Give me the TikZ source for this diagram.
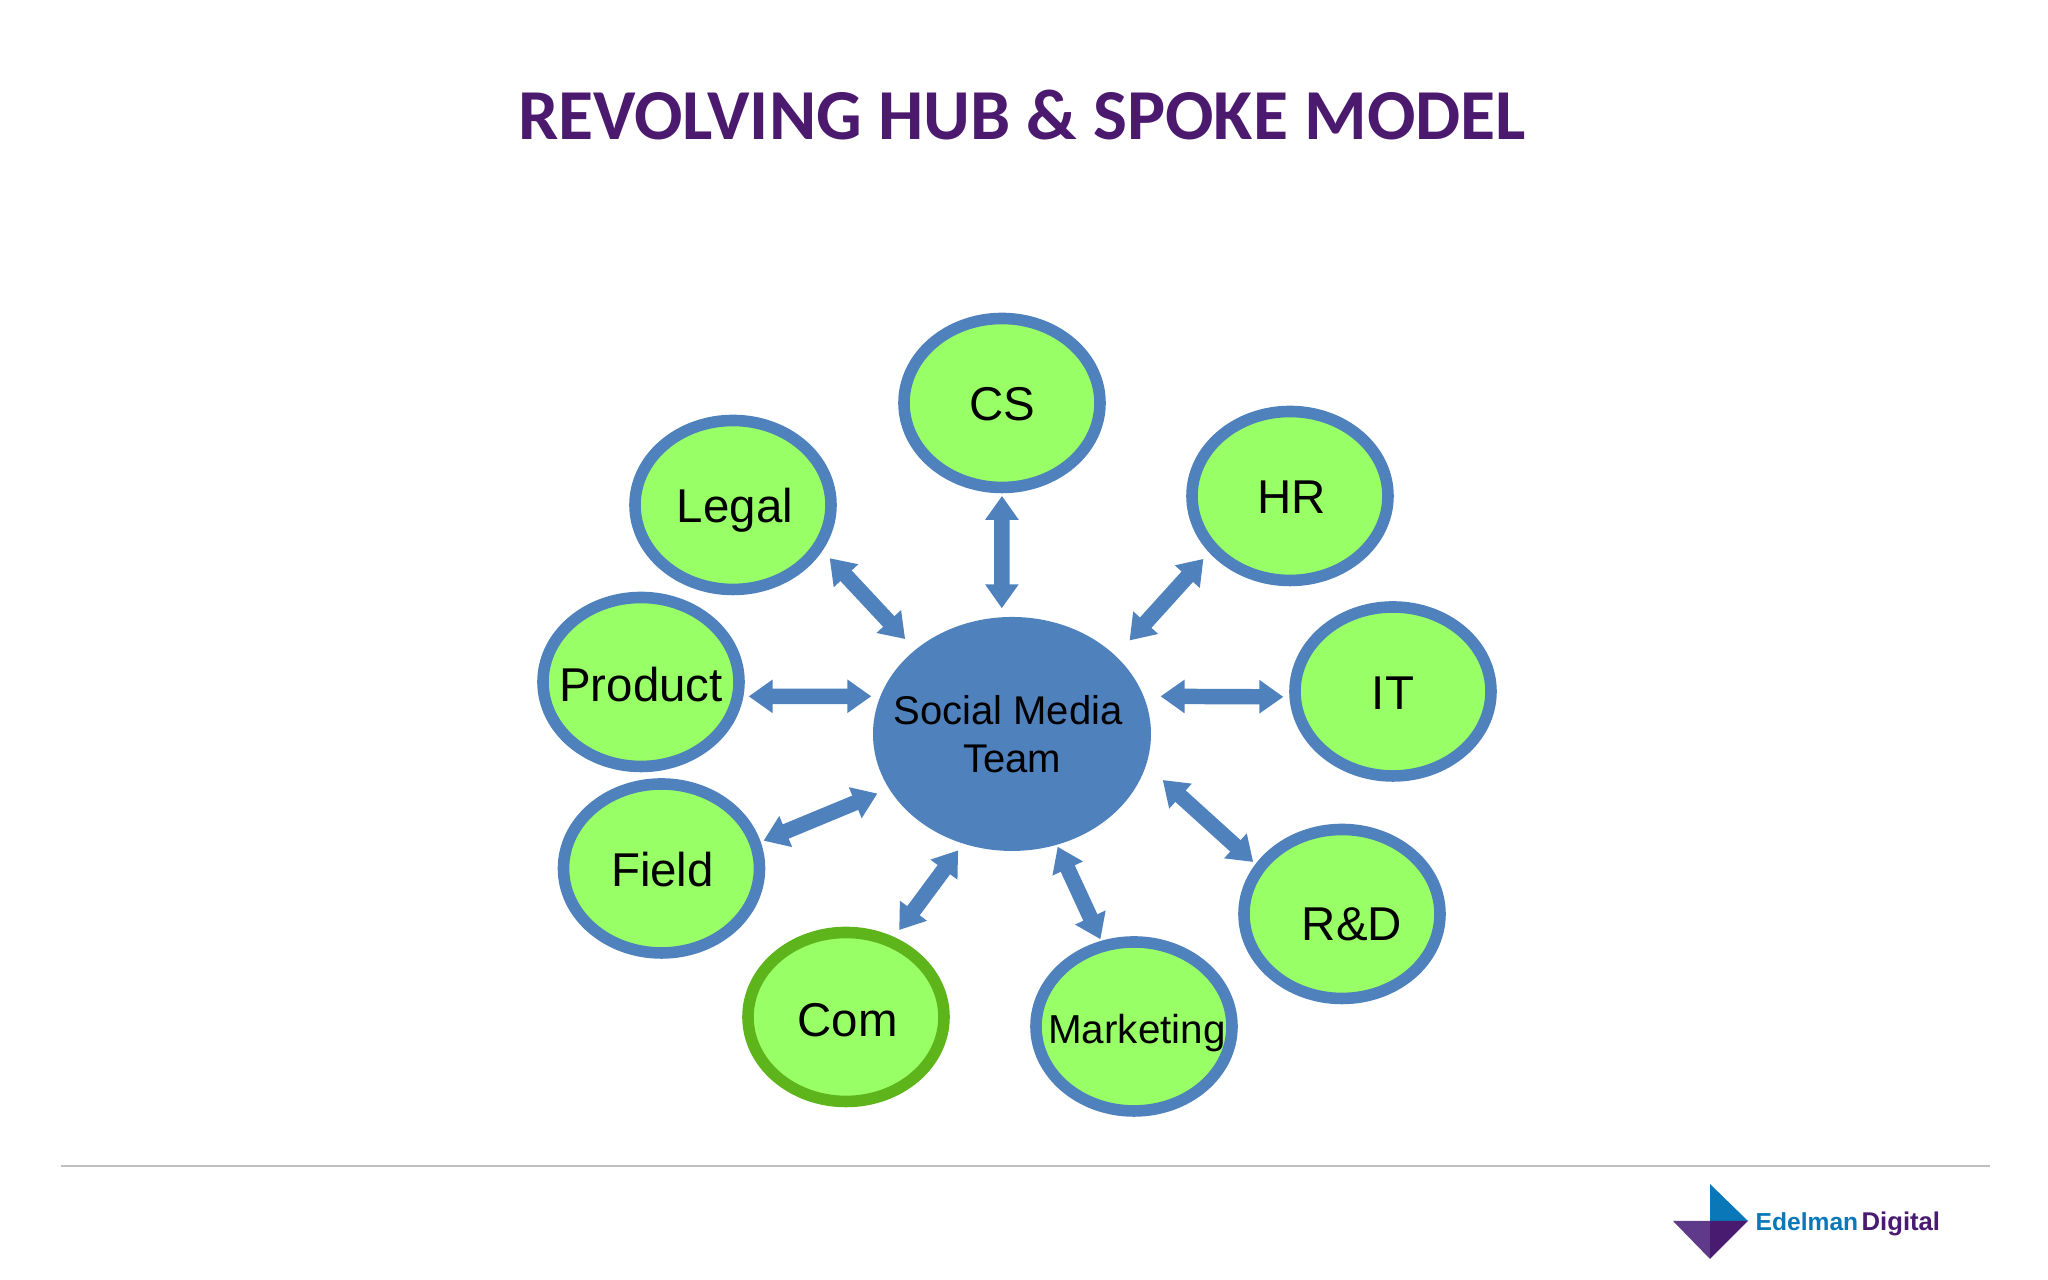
\documentclass[tikz,border=0pt]{standalone}
\usepackage{fontspec}
\setmainfont{Liberation Sans}
\newfontfamily\titlefont{Carlito}
\definecolor{hubblue}{RGB}{79,129,189}
\definecolor{spokegreen}{RGB}{153,255,102}
\definecolor{comgreen}{RGB}{94,181,27}
\definecolor{titlepurple}{RGB}{75,25,110}
\definecolor{logoblue}{RGB}{10,120,184}
\definecolor{logopurple}{RGB}{95,58,138}
\definecolor{logodark}{RGB}{72,26,112}
\usetikzlibrary{shapes.geometric,arrows.meta}
\newcommand{\nudge}[2]{\raisebox{-#1}[\height][\depth]{#2}}
\tikzset{
    hub/.style={ellipse, fill=hubblue, minimum width=2.78cm, minimum height=2.34cm, inner sep=-1cm, outer sep=0pt, align=center, font=\fontsize{11.4}{13.7}\selectfont},
    spoke/.style={ellipse, draw=hubblue, fill=spokegreen, line width=3.3pt, minimum width=1.96cm, minimum height=1.69cm, inner sep=-0.6cm, font=\fontsize{13.5}{16}\selectfont},
    link/.style={{Triangle[width=0.32cm,length=0.24cm]}-{Triangle[width=0.32cm,length=0.24cm]}, draw=hubblue, line width=4.4pt}
}
\begin{document}
\begin{tikzpicture}
    \useasboundingbox (0,0) rectangle (20.48,12.8);
    \node[font=\titlefont\bfseries\fontsize{20.4}{24}\selectfont, text=titlepurple] (title) at (10.22,11.65) {REVOLVING HUB \& SPOKE MODEL};
    % hub and spokes
    \node[hub] (team) at (10.12,5.46) {\hspace{-0.08cm}Social Media\\Team};
    \node[spoke] (cs) at (10.02,8.77) {\nudge{0.013cm}{CS}};
    \node[spoke] (legal) at (7.33,7.75) {\nudge{0.05cm}{\hspace{0.04cm}Legal}};
    \node[spoke] (hr) at (12.90,7.84) {\nudge{0.013cm}{\hspace{0.03cm}HR}};
    \node[spoke] (product) at (6.41,5.98) {\nudge{0.03cm}{Product}};
    \node[spoke] (it) at (13.93,5.885) {\nudge{0.013cm}{IT}};
    \node[spoke] (field) at (6.615,4.115) {\nudge{0.015cm}{\hspace{0.02cm}Field}};
    \node[spoke] (rd) at (13.42,3.66) {\nudge{0.105cm}{\hspace{0.2cm}R\&D}};
    \node[spoke, draw=comgreen] (com) at (8.46,2.63) {\nudge{0.03cm}{\hspace{0.03cm}Com}};
    \node[spoke, font=\fontsize{11.5}{14}\selectfont] (marketing) at (11.34,2.535) {\nudge{0.065cm}{\hspace{0.06cm}Marketing}};
    % arrows
    \draw[link, shorten <=0.09cm, shorten >=0.026cm] (team.95.1) -- (cs.-90);
    \draw[link, shorten <=0.149cm, shorten >=0.104cm] (team.139.1) -- (legal.-27);
    \draw[link, shorten <=0.209cm, shorten >=0.085cm] (team.37.9) -- (hr.215.1);
    \draw[link, shorten <=0.091cm, shorten >=0.052cm] (team.164.2) -- (product.-8.7);
    \draw[link, shorten <=0.17cm, shorten >=0.06cm] (team.16.5) -- (it.183.5);
    \draw[link, shorten <=0.127cm, shorten >=0.031cm] (team.204) -- (field.15.5);
    \draw[link, shorten <=0.085cm, shorten >=0.086cm] (team.246.8) -- (com.59);
    \draw[link, shorten <=0.022cm, shorten >=0.017cm] (team.-68.6) -- (marketing.111.6);
    \draw[link, shorten <=0.225cm, shorten >=0.031cm] (team.-13.7) -- (rd.150.1);
    % footer
    \draw[color=black!25, line width=0.6pt] (0.61,1.14) -- (19.90,1.14);
    \fill[logoblue] (17.10,0.96) -- (17.48,0.59) -- (17.10,0.59) -- cycle;
    \fill[logopurple] (16.73,0.59) -- (17.10,0.59) -- (17.10,0.21) -- cycle;
    \fill[logodark] (17.10,0.59) -- (17.48,0.59) -- (17.10,0.21) -- cycle;
    \node[font=\bfseries\fontsize{7}{8}\selectfont, anchor=base west, inner sep=0pt, text=logoblue] (edelman) at (17.55,0.49) {Edelman};
    \node[font=\bfseries\fontsize{7.3}{8}\selectfont, anchor=base west, inner sep=0pt, text=logodark] (digital) at (18.61,0.49) {Digital};
\end{tikzpicture}
\end{document}
